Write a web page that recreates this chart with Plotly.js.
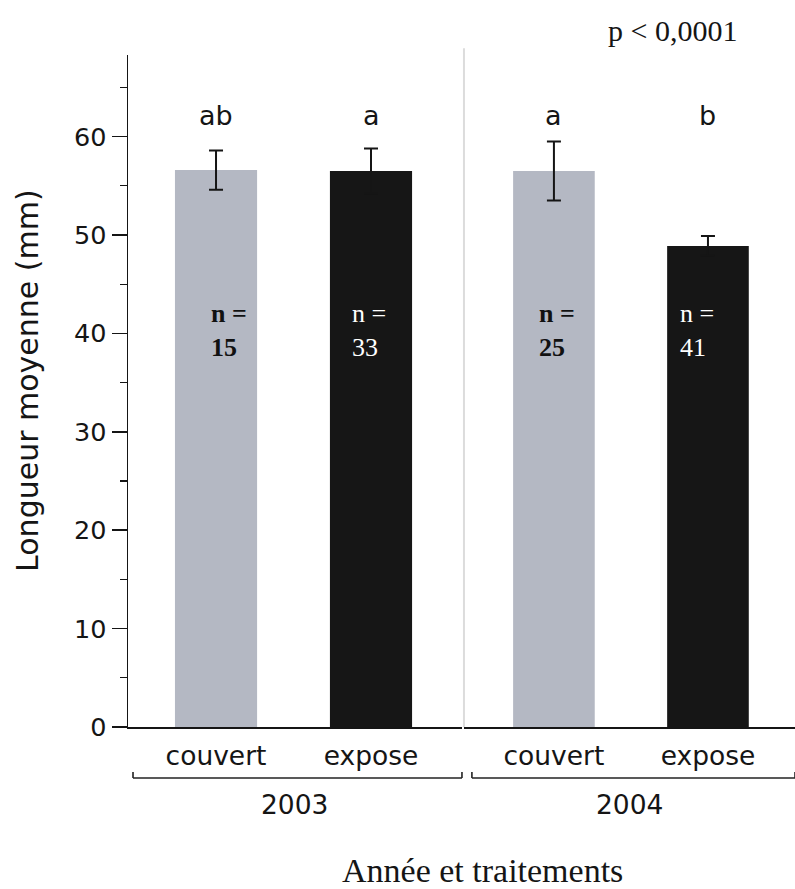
<!DOCTYPE html>
<html>
<head>
<meta charset="utf-8">
<script src="https://cdn.plot.ly/plotly-3.0.1.min.js"></script>
<style>html,body{margin:0;padding:0;background:#fff;}#chart{width:795px;height:889px;}</style>
</head>
<body>
<div id="chart"></div>
<script>
// ---- data ----
const years = ['2003', '2004'];
const treatments = ['couvert', 'expose'];
const means2003 = [56.6, 56.5];
const means2004 = [56.5, 48.9];
const err2003 = [2.0, 2.3];
const err2004 = [3.0, 1.0];
const n2003 = [15, 33];
const n2004 = [25, 41];
const letters2003 = ['ab', 'a'];
const letters2004 = ['a', 'b'];
const pText = 'p < 0,0001';
const xTitle = 'Année et traitements';
const yTitle = 'Longueur moyenne (mm)';

// ---- styles ----
const barColors = ['#b4b8c3', '#161616'];
const sans = 'DejaVu Sans, Verdana, sans-serif';
const serif = 'Liberation Serif, Times New Roman, serif';
const ink = '#151515';

const groups = [
  {year: years[0], means: means2003, err: err2003, n: n2003, letters: letters2003, xa: 'x', shifts: [-7, -21]},
  {year: years[1], means: means2004, err: err2004, n: n2004, letters: letters2004, xa: 'x2', shifts: [-17, -30]}
];

const traces = groups.map(g => ({
  type: 'bar',
  x: treatments,
  y: g.means,
  xaxis: g.xa,
  yaxis: 'y',
  width: 0.53,
  marker: {color: barColors, line: {width: 0}},
  error_y: {type: 'data', array: g.err, visible: true, color: ink, thickness: 2, width: 7},
  hoverinfo: 'x+y'
}));

const annotations = [];
groups.forEach(g => {
  treatments.forEach((t, j) => {
    annotations.push({
      xref: g.xa, yref: 'y', x: t, y: 62.2, text: g.letters[j], showarrow: false,
      xanchor: 'center', yanchor: 'middle', font: {family: sans, size: 27, color: ink}
    });
    const dark = j === 1;
    annotations.push({
      xref: g.xa, yref: 'y', x: t, y: 40.3, xshift: g.shifts[j],
      text: dark ? ('n =<br>' + g.n[j]) : ('<b>n =<br>' + g.n[j] + '</b>'),
      showarrow: false, xanchor: 'left', yanchor: 'middle', align: 'left',
      font: {family: serif, size: 26, color: dark ? '#ffffff' : '#111111'}
    });
  });
  annotations.push({
    xref: g.xa + ' domain', yref: 'paper', x: 0.5, y: -0.116, text: g.year, showarrow: false,
    xanchor: 'center', yanchor: 'middle', font: {family: sans, size: 26.5, color: ink}
  });
});
annotations.push({
  xref: 'paper', yref: 'paper', x: 0.532, y: -0.2128, text: xTitle, showarrow: false,
  xanchor: 'center', yanchor: 'middle', font: {family: serif, size: 34, color: ink}
});
annotations.push({
  xref: 'paper', yref: 'paper', x: -0.150, y: 0.5164, text: yTitle, showarrow: false, textangle: -90,
  xanchor: 'center', yanchor: 'middle', font: {family: sans, size: 30, color: ink}
});
annotations.push({
  xref: 'paper', yref: 'paper', x: 0.8156, y: 1.037, text: pText, showarrow: false,
  xanchor: 'center', yanchor: 'middle', font: {family: serif, size: 30, color: ink}
});

// brackets under the category labels
const yB = -0.0759, yU = -0.0670;
function bracket(ref, a, b) {
  const ln = {color: '#222', width: 1.6};
  return [
    {type: 'line', xref: ref, yref: 'paper', x0: a, x1: b, y0: yB, y1: yB, line: ln},
    {type: 'line', xref: ref, yref: 'paper', x0: a, x1: a, y0: yB, y1: yU, line: ln},
    {type: 'line', xref: ref, yref: 'paper', x0: b, x1: b, y0: yB, y1: yU, line: ln}
  ];
}
const shapes = [
  {type: 'line', xref: 'x2 domain', yref: 'paper', x0: 0, x1: 0, y0: 0, y1: 1.01,
   line: {color: '#dcdcdc', width: 2}},
  ...bracket('x domain', 0.015, 1.0),
  ...bracket('x2 domain', 0.024, 1.0)
];

const xCommon = {
  showline: true, linecolor: ink, linewidth: 1.5, ticks: '', showgrid: false, zeroline: false,
  tickfont: {family: sans, size: 26.5, color: ink}, ticklabelstandoff: 5, fixedrange: true, anchor: 'y'
};

const layout = {
  width: 795, height: 889,
  margin: {l: 128, r: 0, t: 55, b: 162},
  paper_bgcolor: '#ffffff', plot_bgcolor: '#ffffff',
  showlegend: false,
  xaxis: Object.assign({}, xCommon, {domain: [0, 0.5007], range: [-0.568, 1.587]}),
  xaxis2: Object.assign({}, xCommon, {domain: [0.5037, 1], range: [-0.584, 1.565]}),
  yaxis: {
    range: [0, 68.3], tick0: 0, dtick: 10, ticks: 'outside', ticklen: 15, tickwidth: 1.5, tickcolor: ink,
    showline: true, linecolor: ink, linewidth: 1.5, showgrid: false, zeroline: false,
    minor: {dtick: 5, tick0: 0, ticks: 'outside', ticklen: 7, tickwidth: 1.2, tickcolor: ink, showgrid: false},
    tickfont: {family: sans, size: 25.5, color: ink},
    fixedrange: true
  },
  annotations: annotations,
  shapes: shapes
};

Plotly.newPlot('chart', traces, layout, {displayModeBar: false, staticPlot: true});
</script>
</body>
</html>
